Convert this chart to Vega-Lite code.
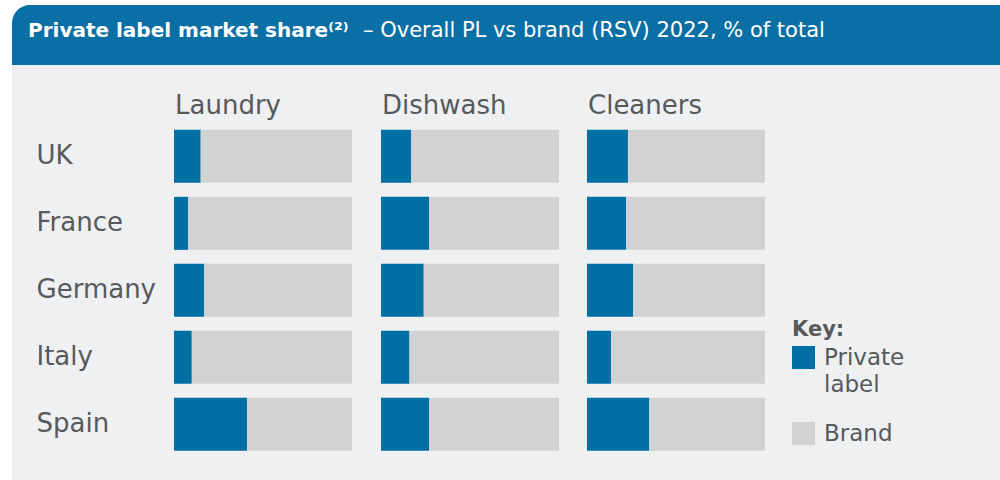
{
  "$schema": "https://vega.github.io/schema/vega-lite/v6.json",
  "background": "white",
  "padding": {"left": 12, "top": 5, "right": 0, "bottom": 0},
  "config": {
    "view": {"stroke": null},
    "font": "DejaVu Sans",
    "concat": {"spacing": 0}
  },
  "datasets": {
    "shares": [
      {"country": "UK", "category": "Laundry", "type": "Private label", "share": 15},
      {"country": "UK", "category": "Laundry", "type": "Brand", "share": 85},
      {"country": "France", "category": "Laundry", "type": "Private label", "share": 8},
      {"country": "France", "category": "Laundry", "type": "Brand", "share": 92},
      {"country": "Germany", "category": "Laundry", "type": "Private label", "share": 17},
      {"country": "Germany", "category": "Laundry", "type": "Brand", "share": 83},
      {"country": "Italy", "category": "Laundry", "type": "Private label", "share": 10},
      {"country": "Italy", "category": "Laundry", "type": "Brand", "share": 90},
      {"country": "Spain", "category": "Laundry", "type": "Private label", "share": 41},
      {"country": "Spain", "category": "Laundry", "type": "Brand", "share": 59},
      {"country": "UK", "category": "Dishwash", "type": "Private label", "share": 17},
      {"country": "UK", "category": "Dishwash", "type": "Brand", "share": 83},
      {"country": "France", "category": "Dishwash", "type": "Private label", "share": 27},
      {"country": "France", "category": "Dishwash", "type": "Brand", "share": 73},
      {"country": "Germany", "category": "Dishwash", "type": "Private label", "share": 24},
      {"country": "Germany", "category": "Dishwash", "type": "Brand", "share": 76},
      {"country": "Italy", "category": "Dishwash", "type": "Private label", "share": 16},
      {"country": "Italy", "category": "Dishwash", "type": "Brand", "share": 84},
      {"country": "Spain", "category": "Dishwash", "type": "Private label", "share": 27},
      {"country": "Spain", "category": "Dishwash", "type": "Brand", "share": 73},
      {"country": "UK", "category": "Cleaners", "type": "Private label", "share": 23},
      {"country": "UK", "category": "Cleaners", "type": "Brand", "share": 77},
      {"country": "France", "category": "Cleaners", "type": "Private label", "share": 22},
      {"country": "France", "category": "Cleaners", "type": "Brand", "share": 78},
      {"country": "Germany", "category": "Cleaners", "type": "Private label", "share": 26},
      {"country": "Germany", "category": "Cleaners", "type": "Brand", "share": 74},
      {"country": "Italy", "category": "Cleaners", "type": "Private label", "share": 13.5},
      {"country": "Italy", "category": "Cleaners", "type": "Brand", "share": 86.5},
      {"country": "Spain", "category": "Cleaners", "type": "Private label", "share": 35},
      {"country": "Spain", "category": "Cleaners", "type": "Brand", "share": 65}
    ]
  },
  "vconcat": [
    {
      "hconcat": [
        {
          "width": 345,
          "height": 60,
          "view": {"fill": "white", "stroke": null},
          "data": {"values": [{}]},
          "mark": {"type": "rect", "fill": "#0a6fa4", "cornerRadiusTopLeft": 18},
          "encoding": {},
          "title": {
            "text": "Private label market share⁽²⁾",
            "anchor": "start",
            "frame": "group",
            "offset": -36,
            "dx": 16,
            "fontSize": 20,
            "fontWeight": "bold",
            "color": "white",
            "font": "DejaVu Sans"
          }
        },
        {
          "width": 643,
          "height": 60,
          "view": {"fill": "#0a6fa4", "stroke": null},
          "data": {"values": []},
          "mark": "rect",
          "encoding": {},
          "title": {
            "text": "– Overall PL vs brand (RSV) 2022, % of total",
            "anchor": "start",
            "frame": "group",
            "offset": -36,
            "dx": 6,
            "fontSize": 21,
            "fontWeight": "normal",
            "color": "white",
            "font": "DejaVu Sans"
          }
        }
      ],
      "spacing": 0,
      "bounds": "flush"
    },
    {
      "hconcat": [
        {
          "width": 369,
          "height": 415,
          "view": {"fill": "#eff0f2", "stroke": null},
          "data": {"name": "shares"},
          "transform": [{"filter": "datum.category === 'Laundry'"}],
          "title": {
            "text": "Laundry",
            "anchor": "start",
            "frame": "group",
            "offset": -53.5,
            "dx": 163,
            "fontSize": 26,
            "fontWeight": "normal",
            "color": "#58595b",
            "font": "DejaVu Sans"
          },
          "mark": {"type": "bar", "strokeWidth": 0},
          "encoding": {
            "y": {
              "field": "country", "type": "nominal",
              "sort": ["UK", "France", "Germany", "Italy", "Spain"],
              "scale": {"paddingInner": 0.209, "paddingOuter": 0.7015, "align": 0.69},
              "axis": {
                "orient": "left", "offset": -24, "labelAlign": "left", "labelPadding": 0,
                "ticks": false, "domain": false, "title": null, "labelFontSize": 26,
                "labelColor": "#58595b", "labelFont": "DejaVu Sans", "labelLimit": 0, "labelBaseline": "middle"
              }
            },
            "x": {
              "field": "share", "type": "quantitative", "stack": "zero",
              "scale": {"domain": [-91.011, 116.292], "nice": false, "zero": false},
              "axis": null
            },
            "color": {
              "field": "type", "type": "nominal", "title": "Key:",
              "scale": {"domain": ["Private label", "Brand"], "range": ["#006fa4", "#d1d2d4"]},
              "legend": {
                "orient": "none", "legendX": 780, "legendY": 314, "padding": 0,
                "titleFontSize": 21, "titleFontWeight": "bold", "titleColor": "#58595b", "titleFont": "DejaVu Sans", "titlePadding": 6,
                "labelFontSize": 23, "labelColor": "#58595b", "labelFont": "DejaVu Sans", "labelLimit": 0, "labelOffset": 9,
                "symbolType": "square", "symbolSize": 529, "symbolStrokeWidth": 0, "rowPadding": 25,
                "encode": {"labels": {"update": {
                  "text": {"signal": "datum.label === 'Private label' ? ['Private', 'label'] : datum.label"},
                  "lineHeight": {"value": 27}
                }}}
              }
            },
            "order": {"field": "type", "sort": "descending"}
          }
        },
        {
          "width": 206,
          "height": 415,
          "view": {"fill": "#eff0f2", "stroke": null},
          "data": {"name": "shares"},
          "transform": [{"filter": "datum.category === 'Dishwash'"}],
          "title": {
            "text": "Dishwash",
            "anchor": "start",
            "frame": "group",
            "offset": -53.5,
            "dx": 1,
            "fontSize": 26,
            "fontWeight": "normal",
            "color": "#58595b",
            "font": "DejaVu Sans"
          },
          "mark": {"type": "bar", "strokeWidth": 0},
          "encoding": {
            "y": {
              "field": "country", "type": "nominal",
              "sort": ["UK", "France", "Germany", "Italy", "Spain"],
              "scale": {"paddingInner": 0.209, "paddingOuter": 0.7015, "align": 0.69},
              "axis": null
            },
            "x": {
              "field": "share", "type": "quantitative", "stack": "zero",
              "scale": {"domain": [0, 115.73], "nice": false, "zero": false},
              "axis": null
            },
            "color": {
              "field": "type", "type": "nominal", "title": "Key:",
              "scale": {"domain": ["Private label", "Brand"], "range": ["#006fa4", "#d1d2d4"]},
              "legend": {
                "orient": "none", "legendX": 780, "legendY": 314, "padding": 0,
                "titleFontSize": 21, "titleFontWeight": "bold", "titleColor": "#58595b", "titleFont": "DejaVu Sans", "titlePadding": 6,
                "labelFontSize": 23, "labelColor": "#58595b", "labelFont": "DejaVu Sans", "labelLimit": 0, "labelOffset": 9,
                "symbolType": "square", "symbolSize": 529, "symbolStrokeWidth": 0, "rowPadding": 25,
                "encode": {"labels": {"update": {
                  "text": {"signal": "datum.label === 'Private label' ? ['Private', 'label'] : datum.label"},
                  "lineHeight": {"value": 27}
                }}}
              }
            },
            "order": {"field": "type", "sort": "descending"}
          }
        },
        {
          "width": 413,
          "height": 415,
          "view": {"fill": "#eff0f2", "stroke": null},
          "data": {"name": "shares"},
          "transform": [{"filter": "datum.category === 'Cleaners'"}],
          "title": {
            "text": "Cleaners",
            "anchor": "start",
            "frame": "group",
            "offset": -53.5,
            "dx": 1,
            "fontSize": 26,
            "fontWeight": "normal",
            "color": "#58595b",
            "font": "DejaVu Sans"
          },
          "mark": {"type": "bar", "strokeWidth": 0},
          "encoding": {
            "y": {
              "field": "country", "type": "nominal",
              "sort": ["UK", "France", "Germany", "Italy", "Spain"],
              "scale": {"paddingInner": 0.209, "paddingOuter": 0.7015, "align": 0.69},
              "axis": null
            },
            "x": {
              "field": "share", "type": "quantitative", "stack": "zero",
              "scale": {"domain": [0, 232.02], "nice": false, "zero": false},
              "axis": null
            },
            "color": {
              "field": "type", "type": "nominal", "title": "Key:",
              "scale": {"domain": ["Private label", "Brand"], "range": ["#006fa4", "#d1d2d4"]},
              "legend": {
                "orient": "none", "legendX": 780, "legendY": 314, "padding": 0,
                "titleFontSize": 21, "titleFontWeight": "bold", "titleColor": "#58595b", "titleFont": "DejaVu Sans", "titlePadding": 6,
                "labelFontSize": 23, "labelColor": "#58595b", "labelFont": "DejaVu Sans", "labelLimit": 0, "labelOffset": 9,
                "symbolType": "square", "symbolSize": 529, "symbolStrokeWidth": 0, "rowPadding": 25,
                "encode": {"labels": {"update": {
                  "text": {"signal": "datum.label === 'Private label' ? ['Private', 'label'] : datum.label"},
                  "lineHeight": {"value": 27}
                }}}
              }
            },
            "order": {"field": "type", "sort": "descending"}
          }
        }
      ],
      "spacing": 0,
      "bounds": "flush",
      "resolve": {"scale": {"x": "independent", "y": "independent", "color": "shared"}}
    }
  ],
  "spacing": 0
}
